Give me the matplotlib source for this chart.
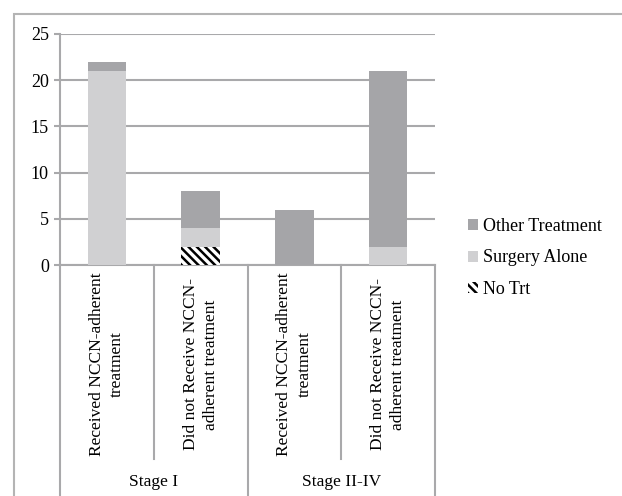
import numpy as np
import matplotlib.pyplot as plt
import matplotlib.transforms as mtransforms
from matplotlib.patches import Rectangle

# ---- DATA ----
categories = ["Received NCCN-adherent\ntreatment",
              "Did not Receive NCCN-\nadherent treatment",
              "Received NCCN-adherent\ntreatment",
              "Did not Receive NCCN-\nadherent treatment"]
groups = ["Stage I", "Stage II-IV"]
no_trt = [0, 2, 0, 0]
surgery_alone = [21, 2, 0, 2]
other_treatment = [1, 4, 6, 19]

# ---- STYLE ----
plt.rcParams["font.family"] = ["Liberation Serif", "DejaVu Serif"]
plt.rcParams["font.size"] = 12.5
plt.rcParams["hatch.linewidth"] = 1.8
GRID = "#a9a9ab"
OTHER = "#a5a5a8"
SURG = "#d0d0d2"

fig = plt.figure(figsize=(6.22, 4.96), dpi=100)
W, H = 622, 496

# outer chart frame
fig.patches.append(Rectangle((14 / W, -0.01), 1.0, (496 - 14) / H + 0.01,
                             transform=fig.transFigure, fill=False,
                             edgecolor="#b4b4b4", linewidth=1.5))

ax = fig.add_axes([60 / W, (H - 265) / H, (435 - 60) / W, (265 - 34) / H])

x = np.arange(len(categories))
bw = 0.41
b0 = np.zeros(len(x))
ax.bar(x, no_trt, bw, bottom=b0, color="white", hatch="\\\\\\\\", edgecolor="black",
       linewidth=0, label="No Trt", zorder=3)
b0 = b0 + np.array(no_trt)
ax.bar(x, surgery_alone, bw, bottom=b0, color=SURG, label="Surgery Alone", zorder=3)
b0 = b0 + np.array(surgery_alone)
ax.bar(x, other_treatment, bw, bottom=b0, color=OTHER, label="Other Treatment", zorder=3)

ax.set_xlim(-0.5, len(x) - 0.5)
ax.set_ylim(0, 25)
ax.set_yticks(range(0, 26, 5))
ax.yaxis.grid(True, color=GRID, linewidth=1.5)
ax.set_axisbelow(True)
ax.tick_params(axis="y", length=4, width=1.5, color=GRID, pad=4, labelsize=13)
ax.set_xticks([])
for s in ["top", "right"]:
    ax.spines[s].set_visible(False)
for s in ["left", "bottom"]:
    ax.spines[s].set_color(GRID)
    ax.spines[s].set_linewidth(1.5)

# category axis with two levels
trans = mtransforms.blended_transform_factory(ax.transData, ax.transAxes)
for xs in [0.5, 2.5]:
    ax.plot([xs, xs], [0, -0.84], color=GRID, lw=1.5, transform=trans, clip_on=False)
for xs in [-0.5, 1.5, 3.5]:
    ax.plot([xs, xs], [0, -1.2], color=GRID, lw=1.5, transform=trans, clip_on=False)
for xi, lab in zip(x, categories):
    ax.text(xi, -0.43, lab, rotation=90, ha="center", va="center",
            multialignment="center", transform=trans, fontsize=12.5, linespacing=1.35)
for gi, g in enumerate(groups):
    ax.text(gi * 2 + 0.5, -0.94, g, ha="center", va="center", transform=trans, fontsize=12.5)

handles, labels = ax.get_legend_handles_labels()
fig.legend(handles[::-1], labels[::-1], loc="center left",
           bbox_to_anchor=(452 / W, (H - 258) / H), frameon=False,
           handlelength=0.55, handleheight=0.55, handletextpad=0.25,
           labelspacing=0.8, fontsize=13)

plt.savefig("out.png", dpi=100)
